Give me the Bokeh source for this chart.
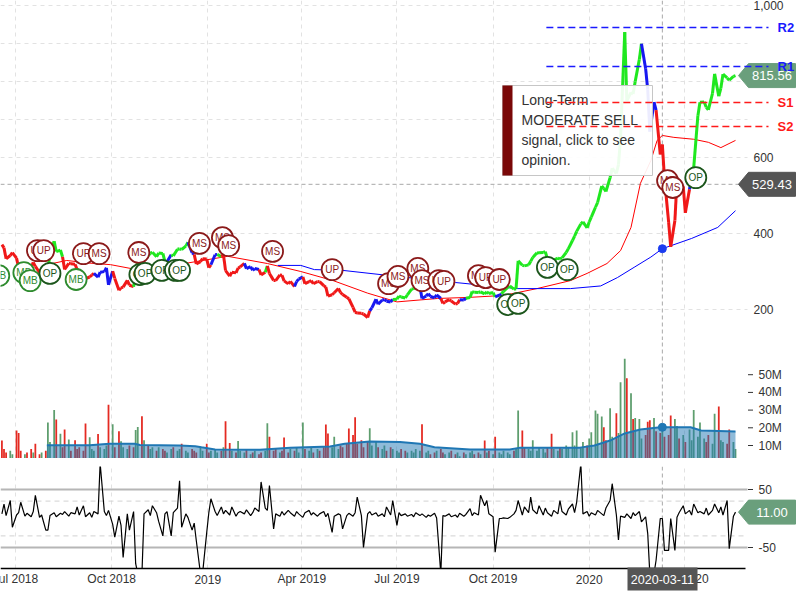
import pandas as pd
from bokeh.plotting import figure
from bokeh.layouts import column
from bokeh.models import Range1d, FixedTicker, Span
from bokeh.core.properties import value
from bokeh.embed import file_html
from bokeh.resources import INLINE

# ------------------------------------------------------------------ data
# closing price, one value every second trading day (2018-06-18 .. 2020-05-20)
close = [
    370.8, 362.2, 333.6, 342.0, 349.9,  335.1, 309.2, 308.9, 318.5, 316.7,
    310.1, 323.9, 313.6, 297.4, 306.7,  290.2, 300.8, 348.2, 379.6, 352.5,
    356.4, 338.7, 305.5, 321.6, 320.1,  319.3, 305.0, 301.7, 289.0, 281.0,
    285.5, 290.5, 295.2, 285.0, 298.3,  299.7, 309.6, 264.8, 301.0, 281.8,
    250.6, 256.9, 258.8, 276.6, 263.9,  260.0, 288.5, 330.9, 329.9, 344.3,
    341.4, 348.2, 350.5, 338.7, 348.4,  347.5, 325.8, 325.8, 343.9, 341.2,
    358.5, 359.7, 358.0, 366.8, 376.8,  349.4, 345.0, 319.8, 326.1, 333.9,
    332.8, 310.1, 317.7, 344.0, 345.0,  339.1, 344.4, 302.3, 287.6, 297.9,
    296.4, 308.8, 312.2, 321.4, 307.5,  312.8, 303.3, 307.9, 305.4, 291.2,
    297.9, 314.7, 294.8, 276.6, 276.2,  290.9, 290.0, 275.4, 267.5, 274.0,
    260.4, 273.6, 279.9, 285.9, 267.9,  273.2, 276.1, 267.8, 273.4, 273.3,
    262.8, 258.7, 235.1, 238.7, 244.1,  255.3, 244.8, 239.5, 232.3, 228.3,
    205.4, 192.7, 190.6, 189.9, 188.2,  179.0, 196.6, 204.5, 227.0, 213.9,
    225.0, 226.4, 221.9, 219.6, 226.5,  227.2, 234.9, 233.1, 230.3, 238.3,
    253.5, 254.9, 258.2, 260.2, 228.8,  235.8, 241.6, 234.3, 230.8, 238.3,
    229.0, 216.0, 219.9, 225.9, 222.2,  214.1, 215.6, 225.6, 225.0, 229.6,
    231.8, 247.1, 245.2, 244.8, 246.6,  241.2, 246.4, 242.1, 244.7, 233.0,
    237.7, 241.0, 247.9, 257.9, 262.0,  253.5, 254.7, 328.1, 316.2, 314.9,
    317.5, 326.6, 337.1, 349.0, 349.4,  350.0, 352.2, 333.0, 328.9, 329.9,
    334.9, 333.0, 335.9, 349.9, 359.7,  381.5, 393.2, 405.6, 425.3, 430.4,
    414.7, 430.3, 443.0, 469.1, 481.3,  524.9, 518.5, 510.5, 547.2, 572.2,
    558.0, 581.0, 650.6, 930.0, 749.0,  771.3, 767.3, 800.0, 858.4, 899.4,
    833.8, 778.7, 668.0, 745.5, 724.5,  608.0, 634.2, 546.6, 430.2, 365.0,
    434.3, 539.3, 514.4, 524.0, 454.5,  516.2, 548.8, 573.0, 709.9, 745.2,
    746.4, 732.1, 725.2, 769.1, 820.0,  761.2, 782.6, 819.4, 809.4, 803.3,
    813.6, 815.56,
]

# signal state of each price point: G = buy, R = sell, B = neutral
signal_runs = [("R", 17), ("G", 5), ("R", 11), ("B", 6), ("R", 7), ("G", 11),
               ("B", 2), ("G", 6), ("B", 2), ("R", 6), ("B", 2), ("G", 1),
               ("R", 8), ("B", 5), ("R", 2), ("G", 1), ("R", 9), ("B", 3),
               ("R", 23), ("B", 8), ("G", 8), ("B", 8), ("R", 7), ("B", 2),
               ("G", 10), ("B", 2), ("G", 48), ("B", 5), ("R", 11), ("B", 1),
               ("G", 15)]

# volume in millions of shares
volume_m = [
    12.8, 8, 6, 7, 5, 18.5, 17, 7, 5, 6,
    8, 6, 11, 5, 6, 7, 23, 12, 30, 24.7,
    16.6, 9, 19, 13.4, 7, 13, 8, 9, 7, 22.5,
    14.7, 8, 7, 16.5, 9, 8, 10, 33, 22, 9,
    18, 12.4, 9, 8, 10, 9, 18.8, 20.5, 26.5, 13,
    10, 8, 9, 7, 9, 8, 7, 6, 8, 9,
    7, 8, 11, 7, 6, 8, 7, 6, 9, 7,
    11, 6, 7, 8, 6, 7, 9, 23.7, 11.4, 7,
    6, 12.5, 7, 6, 8, 5, 6, 7, 5, 6,
    7, 22.6, 15, 7, 8, 6, 7, 14.5, 6, 8,
    7, 9, 6, 23, 8, 7, 9, 6, 8, 7,
    9, 21.9, 16.8, 9, 15, 8, 10, 9, 11, 19.6,
    16, 26, 11, 13, 9, 12, 19.8, 10, 12, 9,
    8, 10, 7, 9, 8, 7, 6, 8, 7, 6,
    7, 6, 8, 7, 22, 6, 7, 5, 6, 7,
    8, 6, 5, 6, 7, 5, 6, 4, 6, 5,
    6, 7, 5, 6, 5, 12.8, 6, 7, 5, 15,
    6, 5, 7, 6, 5, 7, 8, 29.8, 18.5, 9,
    8, 7, 13, 7, 9, 8, 6, 9, 16.6, 8,
    7, 9, 8, 10, 9, 17.5, 10, 18.5, 9, 12,
    10, 14, 17.5, 29.8, 28, 26.4, 20.3, 13, 31, 15,
    28.2, 17, 45.8, 59, 48, 39.5, 25, 25.6, 25, 14,
    16, 23.4, 24.3, 25.6, 18, 17, 20, 15, 16, 27,
    25, 21, 14, 16, 12, 19, 13, 30, 15, 23,
    14, 12, 16, 11, 28, 32, 13, 12, 11, 19,
    12, 8,
]

oscillator = [
    8, 25, 5, 31, -15, 6, 10, 28, 4, 9,
    3, 12, 40, 2, 6, -20, -20, 5, 10, 3,
    9, 7, 12, 4, 10, 8, 20, 6, 22, 3,
    10, 2, 12, 8, 95, 12, 5, 14, -10, -32,
    4, -12, -67, 8, -20, 12, -78, -95, -95, 8,
    15, 5, 22, 10, -5, -30, 8, 12, -30, 10,
    18, 65, -15, 8, 2, -20, -8, -38, -95, -95,
    -24, 10, 34, 12, 5, 20, 8, 14, 6, 20,
    4, 10, 12, 8, 15, 5, 10, 18, 12, 63,
    18, 14, 57, -18, 8, 4, 12, 6, 14, 10,
    4, 12, 8, 2, 10, 14, 6, 10, 4, 8,
    12, 3, 9, -24, 4, 8, 6, -18, 5, 9,
    4, 10, 37, 5, -50, 8, 12, 6, 10, 4,
    8, 3, 20, 6, 31, -12, 10, 5, 8, 4,
    7, 3, 10, 5, 8, 2, 6, 4, 9, 1,
    -95, 5, 4, 8, 3, 6, 2, 9, 4, 7,
    17, 5, 10, 6, 40, 22, 31, 8, 3, -58,
    0, 0, 1, 0, 2, 8, 14, 31, 6, 20,
    10, 37, 15, 8, 22, 6, 18, 10, 4, 14,
    8, 31, 12, 6, 16, 25, 10, 28, 95, 8,
    12, 4, 10, 6, 14, 8, 5, 18, 31, 60,
    6, -37, 4, 2, 8, 0, 10, 5, 12, -6,
    3, -26, -95, -95, -72, 0, 0, -55, -55, 0,
    -55, 2, 10, 22, 8, 14, 6, 25, 10, 12,
    8, 18, 6, 14, 25, 10, 20, 6, 31, -52,
    4, 11,
]

red_ma_dates = ["2018-07-31", "2018-08-19", "2018-09-10", "2018-09-30", "2018-10-25",
                "2018-11-20", "2018-12-12", "2019-01-20", "2019-02-27", "2019-03-31",
                "2019-05-01", "2019-06-03", "2019-07-01", "2019-08-09", "2019-09-09",
                "2019-10-11", "2019-11-12", "2019-12-14", "2019-12-30", "2020-01-18",
                "2020-01-31", "2020-02-10", "2020-02-19", "2020-02-29", "2020-03-06",
                "2020-03-11", "2020-03-22", "2020-04-10", "2020-04-24", "2020-05-06",
                "2020-05-20"]
red_ma = [318, 329, 322, 318, 305, 312, 322, 340, 321, 300, 276, 243, 220, 229, 232,
          237, 255, 276, 295, 321, 355, 416, 532, 592, 645, 658, 653, 648, 640, 626, 645]

blue_ma_dates = ["2019-03-09", "2019-03-31", "2019-04-13", "2019-05-10", "2019-06-28",
                 "2019-08-26", "2019-10-24", "2019-12-14", "2020-01-12", "2020-01-28",
                 "2020-02-13", "2020-02-29", "2020-03-11", "2020-04-08", "2020-05-03",
                 "2020-05-20"]
blue_ma = [316, 316, 305, 303, 288, 271, 255, 255, 262, 284, 311, 338, 360, 387, 416, 460]

vol_ma_dates = ["2018-07-31", "2018-09-10", "2018-09-29", "2018-10-23", "2018-10-28",
                "2018-12-05", "2018-12-20", "2018-12-26", "2019-01-08", "2019-02-20",
                "2019-03-21", "2019-04-28", "2019-05-12", "2019-06-05", "2019-07-04",
                "2019-07-23", "2019-08-06", "2019-09-09", "2019-10-17", "2019-10-27",
                "2019-12-23", "2020-01-06", "2020-01-21", "2020-02-04", "2020-02-19",
                "2020-03-09", "2020-04-07", "2020-04-17", "2020-05-20"]
vol_ma = [10.2, 10.2, 11.0, 11.0, 10.3, 10.0, 9.6, 9.0, 7.8, 7.6, 8.7, 9.5, 11.0, 12.3,
          12.0, 11.0, 9.0, 7.7, 7.7, 8.8, 8.8, 10.0, 12.8, 16.8, 19.0, 20.3, 20.3, 18.5, 17.9]

sig_dates = ["2018-06-15", "2018-07-09", "2018-07-15", "2018-07-22", "2018-07-28",
             "2018-08-03", "2018-08-28", "2018-09-04", "2018-09-19", "2018-10-27",
             "2018-10-28", "2018-11-02", "2018-11-18", "2018-12-01", "2018-12-05",
             "2018-12-24", "2019-01-15", "2019-01-21", "2019-03-04", "2019-04-30",
             "2019-06-23", "2019-07-02", "2019-07-21", "2019-07-25", "2019-08-10",
             "2019-08-15", "2019-09-17", "2019-09-24", "2019-10-07", "2019-10-15",
             "2019-10-25", "2019-11-22", "2019-12-11", "2020-03-16", "2020-03-21",
             "2020-04-12"]
sig_prices = [289, 297, 276, 355, 355, 295, 279, 347, 347, 350, 292, 295, 303, 303, 303,
              374, 389, 368, 353, 305, 268, 287, 308, 276, 276, 274, 289, 284, 279, 213,
              216, 311, 305, 539, 521, 547]
sig_labels = ["MB", "MB", "MB", "UP", "UP", "OP", "MB", "UP", "MS", "MS", "OP", "OP",
              "OP", "OP", "OP", "MS", "MS", "MS", "MS", "UP", "MS", "MS", "MS", "MS",
              "UP", "UP", "MS", "UP", "UP", "OP", "OP", "OP", "OP", "MS", "MS", "OP"]

level_names = ["R2", "R1", "S1", "S2"]
level_values = [942.1, 839.5, 744.7, 681.6]
level_start = "2019-11-21"

last_close = 815.56
last_osc = 11.00
cross_date = "2020-03-11"
cross_price = 529.43
cross_blue_ma = 360
cross_vol_ma = 20.3

price_ticks = [200, 400, 600, 1000]
price_grid = [200, 400, 600, 700, 800, 900, 1000]
vol_ticks = [10, 20, 30, 40, 50]
osc_ticks = [50, -50]
osc_bands = [30, -30]
quarter_dates = ["2018-07-01", "2018-10-01", "2019-01-01", "2019-04-01",
                 "2019-07-01", "2019-10-01", "2020-01-01", "2020-04-01"]
quarter_labels = ["Jul 2018", "Oct 2018", "2019", "Apr 2019",
                  "Jul 2019", "Oct 2019", "2020", "Apr 2020"]
tooltip_lines = ["Long-Term", "MODERATE SELL", "signal, click to see", "opinion."]

# ------------------------------------------------------------------ layout helpers
FONT = "Liberation Sans"
T0 = pd.Timestamp("2018-07-01")


def xdate(px):
    return T0 + pd.Timedelta(days=(px - 15) / 1.045)


def ms(t):
    return pd.Timestamp(t).value / 1e6


def xm(px):
    return ms(xdate(px))


PRICE_PX = 0.38


def price_at(py):
    return 200 + (309 - py) / PRICE_PX


VOL_PX = 1.77
V_LO = 2.66
OSC_PX = 0.58


def osc_at(py):
    return (518 - py) / OSC_PX


dates = pd.bdate_range(end="2020-05-20", periods=len(close), freq="2B")
state = "".join(s * n for s, n in signal_runs)
state_color = {"G": "#1fe81f", "R": "#f01818", "B": "#1818f0"}
sig_color = {"MS": "#8b1a1a", "UP": "#8b1a1a", "OP": "#1c561c", "MB": "#2e8b2e"}
quarter_ms = [ms(d) for d in quarter_dates]
cross_ms = ms(cross_date)

xr = Range1d(xm(0), xm(800))
common = dict(width=800, x_range=xr, x_axis_type="datetime", output_backend="svg",
              toolbar_location=None, y_axis_location=None, x_axis_location=None,
              min_border_left=0, min_border_right=0, min_border_bottom=0)

p1 = figure(height=340, y_range=Range1d(price_at(340), price_at(0)),
            min_border_top=0, **common)
p2 = figure(height=118, y_range=Range1d(V_LO, V_LO + 118 / VOL_PX),
            min_border_top=0, **common)
# oscillator panel: its frame runs down to the page bottom so that the date
# scale beneath it can be drawn as ordinary glyphs
p3 = figure(height=142, y_range=Range1d(osc_at(600), osc_at(466)),
            min_border_top=8, **common)

for p in (p1, p2, p3):
    p.outline_line_color = None
    p.background_fill_color = "white"
    p.border_fill_color = "white"
    p.ygrid.visible = False
    p.xgrid.ticker = FixedTicker(ticks=quarter_ms)
    p.xgrid.grid_line_color = "#e2e2e2"
    p.xgrid.grid_line_dash = "4 4"


def text(p, xs, ys, labels, color="#333333", size="12px", align="left", style="normal"):
    p.text(x=xs, y=ys, text=labels, text_color=color, text_font=value(FONT),
           text_font_size=size, text_align=align, text_baseline="middle",
           text_font_style=style)


def tag(p, yval, label, color, unit_px):
    half = 12 / unit_px
    p.patch([xm(738), xm(748), xm(795), xm(795), xm(748)],
            [yval, yval + half, yval + half, yval - half, yval - half],
            fill_color=color, line_color=color)
    text(p, [xm(771.5)], [yval], [label], color="white", size="13px", align="center")


def crosshair(p, y0, y1):
    p.segment(x0=[cross_ms], y0=[y0], x1=[cross_ms], y1=[y1],
              line_color="#a8a8a8", line_dash="4 3", line_width=1)


# ------------------------------------------------------------------ price panel
n = len(price_grid)
p1.segment(x0=[xm(0)] * n, y0=price_grid, x1=[xm(747)] * n, y1=price_grid,
           line_color="#e2e2e2", line_dash="4 4", line_width=1)
p1.segment(x0=[xm(0)], y0=[cross_price], x1=[xm(740)], y1=[cross_price],
           line_color="#a8a8a8", line_dash="4 3", line_width=1)
crosshair(p1, price_at(340), price_at(0))

p1.line(pd.to_datetime(red_ma_dates), red_ma, line_color="#ff0000", line_width=1)
p1.line(pd.to_datetime(blue_ma_dates), blue_ma, line_color="#0000ff", line_width=1)

p1.segment(x0=dates[:-1], y0=close[:-1], x1=dates[1:], y1=close[1:],
           line_color=[state_color[s] for s in state[1:]], line_width=3)

for d, pr, lab in zip(sig_dates, sig_prices, sig_labels):
    c = sig_color[lab]
    p1.scatter([ms(d)], [pr], marker="circle", size=21, fill_color="white",
               line_color=c, line_width=1.8)
    text(p1, [ms(d)], [pr], [lab], color=c, size="10px", align="center")

p1.scatter([cross_ms], [cross_blue_ma], size=8, color="#1a3cf0")

# tooltip box
p1.quad(left=[xm(502)], right=[xm(652)], top=[price_at(85)], bottom=[price_at(175)],
        fill_color="white", fill_alpha=0.92, line_color="#c6c6c6", line_width=1)
p1.quad(left=[xm(502)], right=[xm(512)], top=[price_at(85)], bottom=[price_at(175)],
        fill_color="#7a0808", line_color=None)
text(p1, [xm(521)] * 4, [price_at(99 + 20 * k) for k in range(4)], tooltip_lines,
     color="#333333", size="14px")

# right-hand price scale
text(p1, [xm(753)] * len(price_ticks), price_ticks, [f"{v:,}" for v in price_ticks])

tag(p1, last_close, f"{last_close:.2f}", "#6a9f7c", PRICE_PX)
tag(p1, cross_price, f"{cross_price:.2f}", "#555555", PRICE_PX)

# support / resistance levels
for name, lv in zip(level_names, level_values):
    c = "#1a1aff" if name.startswith("R") else "#ff1a1a"
    p1.segment(x0=[ms(level_start)], y0=[lv], x1=[xm(768)], y1=[lv],
               line_color=c, line_dash="7 4", line_width=1.5)
    text(p1, [xm(777)], [lv], [name], color=c, size="13px", style="bold")

# ------------------------------------------------------------------ volume panel
crosshair(p2, V_LO, V_LO + 118 / VOL_PX)
bar_colors = ["#e42a22" if i == 0 or close[i] < close[i - 1] else "#5e9e6e"
              for i in range(len(close))]
p2.vbar(x=dates, top=volume_m, bottom=0, width=1.7 * 86400000,
        fill_color=bar_colors, line_color=None)
vmd = pd.to_datetime(vol_ma_dates)
p2.varea(x=vmd, y1=[0] * len(vol_ma), y2=vol_ma, fill_color="#1f77b4", fill_alpha=0.5)
p2.line(vmd, vol_ma, line_color="#1f77b4", line_width=2)
p2.scatter([cross_ms], [cross_vol_ma], size=8, color="#1f77b4")

p2.scatter([xm(750)] * len(vol_ticks), vol_ticks, marker="dash", size=5,
           line_color="#333333", line_width=1)
text(p2, [xm(758)] * len(vol_ticks), vol_ticks, [f"{v}M" for v in vol_ticks])

# ------------------------------------------------------------------ oscillator panel
crosshair(p3, osc_at(568), osc_at(466))
p3.segment(x0=[xm(0)] * 2, y0=osc_ticks, x1=[xm(747)] * 2, y1=osc_ticks,
           line_color="#b6b6b6", line_width=2)
p3.segment(x0=[xm(0)] * 2, y0=osc_bands, x1=[xm(747)] * 2, y1=osc_bands,
           line_color="#d2d2d2", line_dash="5 4", line_width=1)
p3.line(dates, oscillator, line_color="black", line_width=1.2)

p3.scatter([xm(750)] * len(osc_ticks), osc_ticks, marker="dash", size=5,
           line_color="#333333", line_width=1)
text(p3, [xm(758)] * len(osc_ticks), osc_ticks, [str(v) for v in osc_ticks])
tag(p3, last_osc, f"{last_osc:.2f}", "#6a9f7c", OSC_PX)

# date scale under the oscillator
p3.quad(left=[xm(0)], right=[xm(800)], top=[osc_at(568)], bottom=[osc_at(600)],
        fill_color="white", line_color=None)
p3.segment(x0=[xm(0)], y0=[osc_at(568)], x1=[xm(745)], y1=[osc_at(568)],
           line_color="black", line_width=1.6)
text(p3, quarter_ms, [osc_at(578.5)] * len(quarter_ms), quarter_labels,
     align="center")
p3.quad(left=[xm(627)], right=[xm(697)], top=[osc_at(567)], bottom=[osc_at(590)],
        fill_color="#555555", line_color=None)
text(p3, [cross_ms], [osc_at(578.5)], [cross_date], color="white", size="12.5px",
     align="center")

layout = column(p1, p2, p3)
open("out.html", "w").write(file_html(layout, INLINE, title="chart"))
